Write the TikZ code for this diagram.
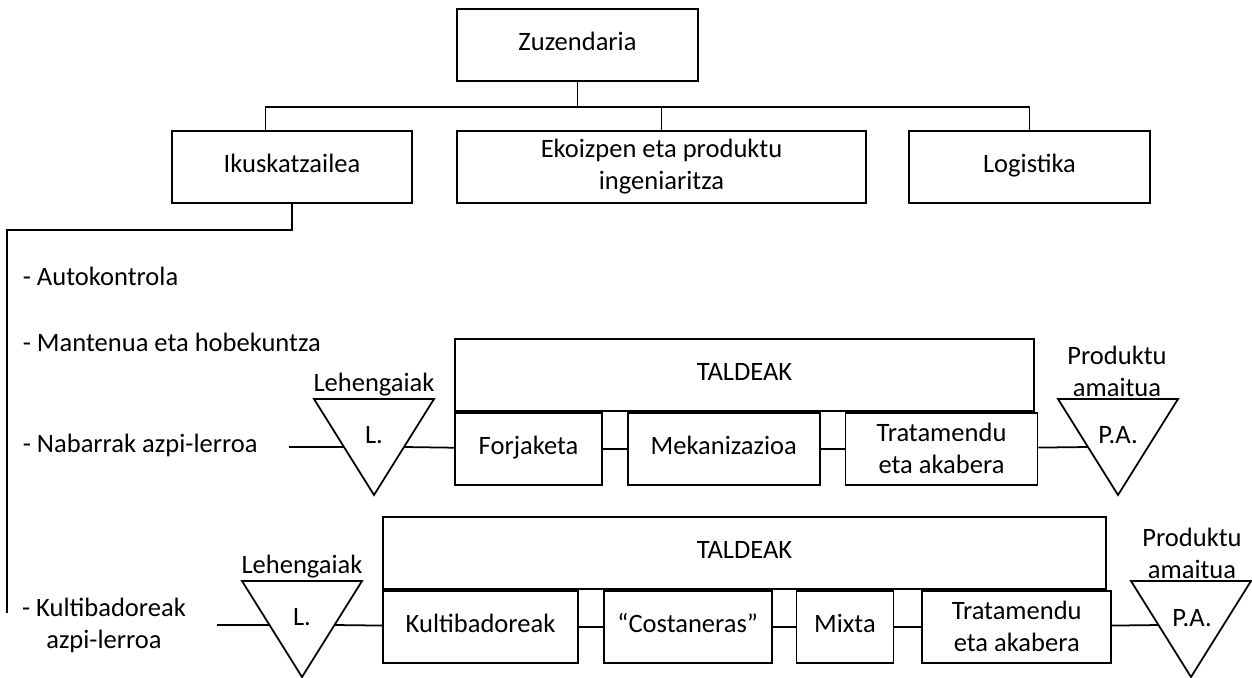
\documentclass[tikz,border=0pt]{standalone}
\usepackage{fontspec}
\setmainfont{Carlito}
\usetikzlibrary{positioning,calc}

\begin{document}
\begin{tikzpicture}[
  x=0.02cm, y=-0.02cm, line width=1pt,
  lbl/.style={inner sep=0pt,align=center,font=\fontsize{15.1}{18.2}\selectfont},
  one/.style={text height=0.65em,text depth=0pt},
  box2/.style={lbl,draw,minimum height=1.44cm},
  box/.style={box2,one},
  tri/.style={draw,fill=white,line join=miter},
]
  \useasboundingbox (0,0) rectangle (1252,677);

  % organigrama
  \node[box,minimum width=4.82cm] (zuz) at (577.5,45) {Zuzendaria};
  \node[box,minimum width=4.8cm] (ikusk) at (292,167) {Ikuskatzailea};
  \node[box2,minimum width=8.18cm] (ekoiz) at (661.5,167)
    {Ekoizpen eta produktu\\ingeniaritza};
  \node[box,minimum width=4.82cm] (logis) at (1029.5,167) {Logistika};
  \draw (zuz.south) -- ++(0,25) coordinate (bus);
  \draw ($(ikusk.north west)!0.39!(ikusk.north east)$) |- (bus) -| (logis.north);
  \draw (ekoiz.north) -- (ekoiz.north |- bus);

  \coordinate (lft) at (7,613);
  \draw (ikusk.south) -- ++(0,26) -| (lft);

  % zerrenda
  \node[lbl,one,anchor=west] (auto) at (22,280) {- Autokontrola};
  \node[lbl,one,anchor=west] (mant) at (22,346) {- Mantenua eta hobekuntza};
  \node[lbl,one,anchor=west] (nab) at (22,447) {- Nabarrak azpi-lerroa};
  \node[lbl] (kultl) at (104,625) {- Kultibadoreak\\azpi-lerroa};

  % nabarrak
  \node[box,minimum width=11.58cm] (tald1) at (744.5,375) {TALDEAK};
  \node[box,minimum width=2.94cm,anchor=north west] (forj) at (tald1.south west)
    {Forjaketa};
  \node[box,minimum width=3.84cm,right=0.48cm of forj] (mek) {Mekanizazioa};
  \node[box2,minimum width=3.84cm,right=0.48cm of mek] (trat1)
    {Tratamendu\\eta akabera};

  \coordinate (r1) at (289,447);
  \coordinate (l1w) at (344,447);
  \coordinate (l1e) at (404,447);
  \coordinate (pa1w) at (1088,447);
  \draw (r1) -- (l1w);
  \draw (l1e) -- (forj);
  \draw (forj) -- (mek);
  \draw (mek) -- (trat1);
  \draw (trat1) -- (pa1w);
  \draw[tri] (314,399) -- (434,399) -- (374,495) -- cycle;
  \draw[tri] (1058,399) -- (1178,399) -- (1118,495) -- cycle;
  \node[lbl,one] (l1) at (374,438) {L.};
  \node[lbl,one] (pa1) at (1118,438) {P.A.};
  \node[lbl] (leh1) at (374,385) {Lehengaiak};
  \node[lbl] (prod1) at (1117,371) {Produktu\\amaitua};

  % kultibadoreak
  \node[box,minimum width=14.46cm] (tald2) at (744.5,553) {TALDEAK};
  \node[box,minimum width=3.9cm,anchor=north west] (kult) at (tald2.south west)
    {Kultibadoreak};
  \node[box,minimum width=3.36cm,right=0.48cm of kult] (cost) {“Costaneras”};
  \node[box,minimum width=1.94cm,right=0.46cm of cost] (mixta) {Mixta};
  \node[box2,minimum width=3.78cm,right=0.54cm of mixta] (trat2)
    {Tratamendu\\eta akabera};

  \coordinate (r2) at (217,625);
  \coordinate (l2w) at (269.5,625);
  \coordinate (l2e) at (334.5,625);
  \coordinate (pa2w) at (1159.5,625);
  \draw (r2) -- (l2w);
  \draw (l2e) -- (kult);
  \draw (kult) -- (cost);
  \draw (cost) -- (mixta);
  \draw (mixta) -- (trat2);
  \draw (trat2) -- (pa2w);
  \draw[tri] (242,581) -- (362,581) -- (302,677) -- cycle;
  \draw[tri] (1131,581) -- (1251,581) -- (1191,677) -- cycle;
  \node[lbl,one] (l2) at (302,620) {L.};
  \node[lbl,one] (pa2) at (1192,621) {P.A.};
  \node[lbl] (leh2) at (302,567) {Lehengaiak};
  \node[lbl] (prod2) at (1192,553) {Produktu\\amaitua};
\end{tikzpicture}
\end{document}
